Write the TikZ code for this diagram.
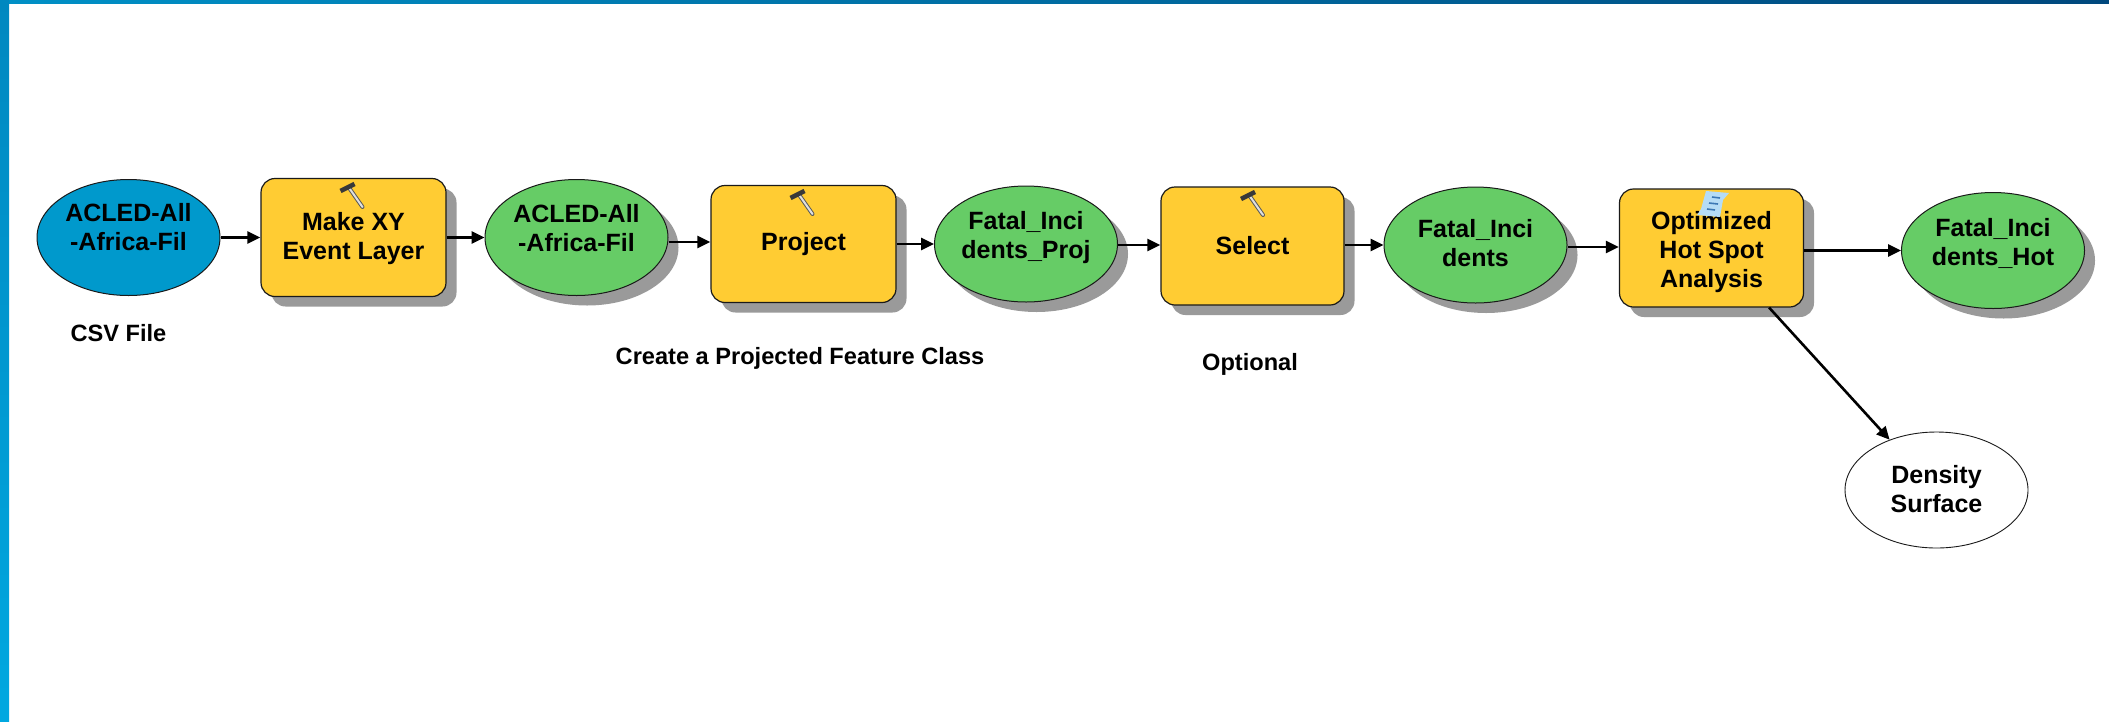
\documentclass[tikz,border=0pt]{standalone}
\usepackage{fontspec}
\setmainfont{Liberation Sans}
\usetikzlibrary{shapes.geometric,shadows,arrows.meta}
\definecolor{toolyellow}{HTML}{FFCC33}
\definecolor{datagreen}{HTML}{66CC66}
\definecolor{inputblue}{HTML}{0099CC}
\definecolor{shadowgray}{HTML}{9A9A9A}
\definecolor{outline}{HTML}{1A1A1A}
\definecolor{barstart}{HTML}{0090C6}
\definecolor{barend}{HTML}{00487D}
\definecolor{sidestart}{HTML}{0088C0}
\definecolor{sideend}{HTML}{00A8E0}
\definecolor{scrollpale}{HTML}{B5DCF5}
\definecolor{scrollink}{HTML}{3C78B4}
\newcommand\liftlines[2]{\raisebox{#1}[0pt][0pt]{\begin{tabular}{@{}c@{}}#2\end{tabular}}}
\tikzset{
  x=1pt,y=-1pt,
  textfont/.style={font=\fontsize{25}{29}\selectfont\bfseries,text=black,align=center},
  castshadow/.style={drop shadow={shadow xshift=10.5pt,shadow yshift=-10pt,fill=shadowgray,opacity=1}},
  toolbox/.style={textfont,shape=rectangle,rounded corners=14pt,draw=outline,line width=1.2pt,fill=toolyellow,castshadow,minimum width=#1,inner sep=0pt},
  dataell/.style={textfont,shape=ellipse,draw=outline,line width=1pt,minimum width=183pt,minimum height=116pt,inner sep=0pt},
  note/.style={font=\fontsize{23.6}{28}\selectfont\bfseries,text=black},
  link/.style={line width=2.6pt,black,-{Triangle[length=13pt,width=12pt]}},
  hammer/.pic={
    \draw[line width=4pt,gray!70!black,line cap=round] (1,0) -- (15,20);
    \draw[line width=2pt,gray!25!white,line cap=round] (1,0) -- (15,20);
    \draw[line width=4.5pt,gray!45!black] (-7,4) -- (7,-3);
  },
  scrollicon/.pic={
    \fill[scrollpale] (-6,-13) -- (17,-11) -- (11,-4) -- (8,13) -- (-15,11) -- (-11,5) -- cycle;
    \draw[line width=1.6pt,scrollink] (0,-7) -- (8,-6) (-3,-1) -- (6,0) (-5,5) -- (3,6);
  },
}
\begin{document}
\begin{tikzpicture}
\useasboundingbox (0,0) rectangle (2109,721);
\fill[white] (0,0) rectangle (2109,721);
\shade[left color=barstart,right color=barend] (0,0) rectangle (2109,3);
\shade[top color=sidestart,bottom color=sideend] (0,0) rectangle (9,721);

\node[dataell,fill=inputblue] (e1) at (128.5,237.5) {\liftlines{1.5pt}{ACLED-All\\-Africa-Fil}};
\node[toolbox=185pt,minimum height=118pt] (b1) at (353.5,237.5) {\liftlines{-7.8pt}{Make XY\\Event Layer}};
\node[dataell,fill=datagreen,castshadow] (e2) at (576.5,237.5) {\liftlines{0pt}{ACLED-All\\-Africa-Fil}};
\node[toolbox=185pt,minimum height=117pt] (b2) at (803.5,244) {\liftlines{-6.8pt}{Project}};
\node[dataell,fill=datagreen,castshadow] (e3) at (1026,244) {\liftlines{0pt}{Fatal\_Inci\\dents\_Proj}};
\node[toolbox=183pt,minimum height=118pt] (b3) at (1252.5,246) {Select};
\node[dataell,fill=datagreen,castshadow] (e4) at (1475.5,245) {\liftlines{-7.3pt}{Fatal\_Inci\\dents}};
\node[toolbox=184pt,minimum height=118pt] (b4) at (1711.5,248) {\liftlines{-11pt}{Optimized\\Hot Spot\\Analysis}};
\node[dataell,fill=datagreen,castshadow] (e5) at (1993,250.5) {\liftlines{-0.5pt}{Fatal\_Inci\\dents\_Hot}};
\node[dataell,fill=white,line width=0.9pt] (d1) at (1936.5,490) {\liftlines{-8.3pt}{Density\\Surface}};

\node[note] (n1) at (118.5,333) {CSV File};
\node[note] (n2) at (800,358) {Create a Projected Feature Class};
\node[note] (n3) at (1250,364) {Optional};

\pic at (347.5,187) {hammer};
\pic at (797.5,194) {hammer};
\pic at (1248,195) {hammer};
\pic at (1712,204) {scrollicon};

\draw[link] (e1.east) -- (b1.west);
\draw[link] (b1.east) -- (e2.west);
\draw[link] ([yshift=-4.5pt]e2.east) -- ([yshift=2pt]b2.west);
\draw[link] (b2.east) -- (e3.west);
\draw[link] ([yshift=-1pt]e3.east) -- ([yshift=1pt]b3.west);
\draw[link] ([yshift=1pt]b3.east) -- (e4.west);
\draw[link] ([yshift=-2pt]e4.east) -- ([yshift=1pt]b4.west);
\draw[link] ([yshift=-2.5pt]b4.east) -- (e5.west);
\draw[link] ([xshift=-35pt]b4.south east) -- (d1.133);
\end{tikzpicture}
\end{document}
